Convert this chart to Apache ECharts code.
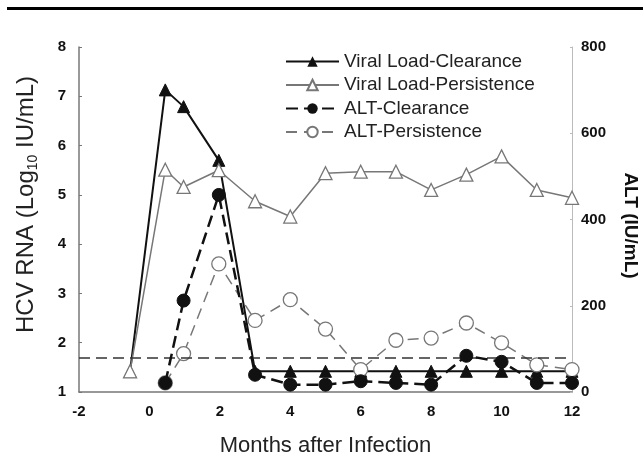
<!DOCTYPE html>
<html><head><meta charset="utf-8">
<script src="https://cdn.jsdelivr.net/npm/echarts@6/dist/echarts.min.js"></script>
<style>html,body{margin:0;padding:0;background:#fff}#c{width:643px;height:456px}</style>
</head><body><div id="c"></div>
<script>
// Months (x) for each series
const vlcMonths = [-0.55, 0.45, 0.97, 1.97, 3, 4, 5, 6, 7, 8, 9, 10, 11, 12];
const vlcValues = [1.42, 7.13, 6.79, 5.70, 1.42, 1.42, 1.42, 1.42, 1.42, 1.42, 1.42, 1.42, 1.42, 1.42];
const vlpMonths = [-0.55, 0.45, 0.97, 1.97, 3, 4, 5, 6, 7, 8, 9, 10, 11, 12];
const vlpValues = [1.42, 5.51, 5.16, 5.50, 4.87, 4.56, 5.44, 5.47, 5.47, 5.10, 5.41, 5.78, 5.10, 4.94];
const altcMonths = [0.45, 0.97, 1.97, 3, 4, 5, 6, 7, 8, 9, 10, 11, 12];
const altcValues = [21, 212, 457, 40, 17, 17, 25, 21, 17, 84, 70, 21, 21];
const altpMonths = [0.45, 0.97, 1.97, 3, 4, 5, 6, 7, 8, 9, 10, 11, 12];
const altpValues = [21, 89, 297, 166, 214, 146, 52, 120, 125, 160, 114, 63, 52];
const thresholdLog = 1.7;
const xTicks = [-2, 0, 2, 4, 6, 8, 10, 12];
const leftTicks = [1, 2, 3, 4, 5, 6, 7, 8];
const rightTicks = [0, 200, 400, 600, 800];
const seriesNames = ['Viral Load-Clearance', 'Viral Load-Persistence', 'ALT-Clearance', 'ALT-Persistence'];

const zip = (xs, ys) => xs.map((x, i) => [x, ys[i]]);
const FONT = '"Liberation Sans", Arial, sans-serif';
const chart = echarts.init(document.getElementById('c'), null, {renderer: 'canvas'});
chart.setOption({
  animation: false,
  backgroundColor: '#fff',
  textStyle: {fontFamily: FONT},
  graphic: [{type: 'rect', shape: {x: 7, y: 7, width: 636, height: 3}, style: {fill: '#000'}}],
  grid: {left: 79, right: 71, top: 47, bottom: 64, containLabel: false, outerBoundsMode: 'none'},
  legend: {
    left: 280, top: 47, orient: 'vertical', itemWidth: 53, itemHeight: 13, itemGap: 4.5,
    textStyle: {fontSize: 19, color: '#222', fontFamily: FONT},
    data: seriesNames
  },
  xAxis: {
    type: 'value', min: xTicks[0], max: xTicks[xTicks.length - 1], interval: 2,
    name: 'Months after Infection', nameLocation: 'middle', nameGap: 43,
    nameTextStyle: {fontSize: 22, color: '#222', fontFamily: FONT},
    axisLine: {onZero: false, lineStyle: {color: '#777', width: 1.5}},
    axisTick: {show: false},
    splitLine: {show: false},
    axisLabel: {fontSize: 15, fontWeight: 'bold', color: '#111', margin: 12, fontFamily: FONT}
  },
  yAxis: [{
    type: 'value', min: leftTicks[0], max: leftTicks[leftTicks.length - 1], interval: 1,
    name: '{a|HCV RNA (Log}{s|10}{a| IU/mL)}', nameLocation: 'middle', nameGap: 39, nameRotate: 90,
    nameTextStyle: {color: '#222', padding: [0, 0, 0, 30], rich: {
      a: {fontSize: 24, color: '#222', fontFamily: FONT, lineHeight: 28},
      s: {fontSize: 14, color: '#222', fontFamily: FONT, lineHeight: 28, verticalAlign: 'bottom', padding: [12, 0, 0, 0]}
    }},
    axisLine: {show: true, onZero: false, lineStyle: {color: '#777', width: 1.5}},
    axisTick: {show: true, inside: true, length: 3, lineStyle: {color: '#777'}},
    splitLine: {show: false},
    axisLabel: {fontSize: 15, fontWeight: 'bold', color: '#111', margin: 13, fontFamily: FONT}
  }, {
    type: 'value', min: rightTicks[0], max: rightTicks[rightTicks.length - 1], interval: 200,
    position: 'right',
    name: 'ALT (IU/mL)', nameLocation: 'middle', nameGap: 49, nameRotate: -90,
    nameTextStyle: {fontSize: 19, fontWeight: 'bold', color: '#111', fontFamily: FONT, padding: [0, 0, 0, 12]},
    axisLine: {show: true, onZero: false, lineStyle: {color: '#bbb', width: 1}},
    axisTick: {show: true, inside: true, length: 2, lineStyle: {color: '#bbb'}},
    splitLine: {show: false},
    axisLabel: {fontSize: 15, fontWeight: 'bold', color: '#111', margin: 9, fontFamily: FONT}
  }],
  series: [{
    name: seriesNames[0], type: 'line', yAxisIndex: 0, data: zip(vlcMonths, vlcValues),
    symbol: 'triangle', symbolSize: 12, z: 3,
    lineStyle: {color: '#111', width: 2}, itemStyle: {color: '#111', borderColor: '#111'},
    markLine: {silent: true, symbol: 'none', label: {show: false},
      lineStyle: {color: '#333', type: [11, 6], width: 1.5},
      data: [{yAxis: thresholdLog}]}
  }, {
    name: seriesNames[1], type: 'line', yAxisIndex: 0, data: zip(vlpMonths, vlpValues),
    symbol: 'triangle', symbolSize: 13, z: 4,
    lineStyle: {color: '#777', width: 1.5}, itemStyle: {color: '#fff', borderColor: '#777', borderWidth: 1.3}
  }, {
    name: seriesNames[2], type: 'line', yAxisIndex: 1, data: zip(altcMonths, altcValues),
    symbol: 'circle', symbolSize: 13, z: 5,
    lineStyle: {color: '#111', width: 2.5, type: [12, 6]}, itemStyle: {color: '#111', borderColor: '#111'}
  }, {
    name: seriesNames[3], type: 'line', yAxisIndex: 1, data: zip(altpMonths, altpValues),
    symbol: 'circle', symbolSize: 14, z: 4,
    lineStyle: {color: '#777', width: 1.5, type: [11, 7]}, itemStyle: {color: '#fff', borderColor: '#777', borderWidth: 1.3}
  }]
});
</script></body></html>
